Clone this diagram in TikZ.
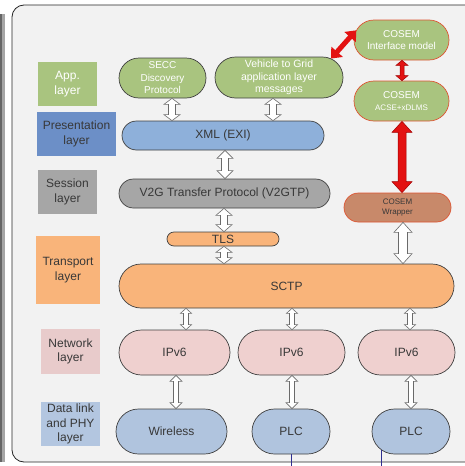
\documentclass[tikz,border=0pt]{standalone}
\usepackage{fontspec}
\setmainfont{Liberation Sans}
\usetikzlibrary{shapes.misc,arrows.meta,calc}
\definecolor{panel}{HTML}{F2F2F2}
\definecolor{edgec}{HTML}{404040}
\definecolor{txt}{HTML}{383838}
\definecolor{greenf}{HTML}{A9C47F}
\definecolor{preslab}{HTML}{6C8FC7}
\definecolor{xmlf}{HTML}{8EB0DA}
\definecolor{sessf}{HTML}{A6A6A6}
\definecolor{transf}{HTML}{F9B47A}
\definecolor{netlab}{HTML}{E8CBCB}
\definecolor{netf}{HTML}{EFD0CF}
\definecolor{dllab}{HTML}{B3C6E0}
\definecolor{dlf}{HTML}{B0C4DE}
\definecolor{wrapf}{HTML}{C8896A}
\definecolor{redb}{HTML}{DD5533}
\definecolor{redarrow}{HTML}{E31212}
\definecolor{redarrowb}{HTML}{A00000}
\definecolor{hollowb}{HTML}{6A6A6A}
\definecolor{bline}{HTML}{303090}
\newcommand\harr[7][hollow]{%
  \draw[#1] let \p1=(#3), \p2=(#4) in
   (#2pt,\y1) -- (#2pt+#6pt,\y1-#7pt) -- (#2pt+#5pt,\y1-#7pt) --
   (#2pt+#5pt,\y2+#7pt) -- (#2pt+#6pt,\y2+#7pt) -- (#2pt,\y2) --
   (#2pt-#6pt,\y2+#7pt) -- (#2pt-#5pt,\y2+#7pt) -- (#2pt-#5pt,\y1-#7pt) --
   (#2pt-#6pt,\y1-#7pt) -- cycle;}
\begin{document}
\begin{tikzpicture}[x=1pt,y=-1pt,
  pill/.style={rounded rectangle, draw=edgec, line width=0.7pt, inner sep=0pt,
    text=txt, font=\fontsize{12}{14}\selectfont, align=center},
  cosem/.style={pill, draw=redb, fill=greenf, text=white},
  lab/.style={rectangle, inner sep=0pt, text=txt,
    font=\fontsize{12}{14.5}\selectfont, align=center},
  hollow/.style={fill=white, draw=hollowb, line width=0.6pt, line join=miter},
  redarr/.style={fill=redarrow, draw=redarrowb, line width=0.5pt, line join=miter},
  blue line/.style={draw=bline, line width=0.8pt}]
\useasboundingbox (0,0) rectangle (465,466);
% background
\fill[white] (0,0) rectangle (465,466);
\fill[black!35] (0,14) rectangle (5,462);
\fill[black!60] (0,14) rectangle (1.5,462);
\draw[fill=panel, draw=black!85, line width=0.8pt, rounded corners=12pt] (12,5) rectangle (490,462);
% layer labels
\node[lab, fill=greenf, text=white, minimum width=59pt, minimum height=44pt] (lapp) at (67.5,84) {App.\\layer};
\node[lab, fill=preslab, minimum width=79pt, minimum height=44pt] (lpres) at (76.5,134) {Presentation\\layer};
\node[lab, fill=sessf, minimum width=59pt, minimum height=44pt] (lsess) at (67.5,192) {Session\\layer};
\node[lab, fill=transf, minimum width=64pt, minimum height=68pt] (ltrans) at (68,270) {Transport\\layer};
\node[lab, fill=netlab, minimum width=59pt, minimum height=45pt] (lnet) at (70.5,351.5) {Network\\layer};
\node[lab, fill=dllab, minimum width=59pt, minimum height=44pt] (ldl) at (70.5,424) {Data link\\and PHY\\layer};
% protocol nodes
\node[pill, fill=greenf, text=white, font=\fontsize{10}{12.5}\selectfont, minimum width=87pt, minimum height=40pt] (secc) at (162.5,78) {SECC\\Discovery\\Protocol};
\node[pill, fill=greenf, text=white, font=\fontsize{10.5}{12.5}\selectfont, minimum width=128pt, minimum height=41pt] (v2g) at (279,77.5) {Vehicle to Grid\\application layer\\messages};
\node[cosem, font=\fontsize{10}{12}\selectfont, minimum width=95pt, minimum height=40pt] (cim) at (401.5,40) {COSEM\\Interface model};
\node[cosem, font=\fontsize{10}{11.5}\selectfont, minimum width=95pt, minimum height=40pt] (acse) at (401.5,101) {COSEM\\{\fontsize{8}{10}\selectfont ACSE+xDLMS}};
\node[pill, fill=xmlf, minimum width=202pt, minimum height=29pt] (xml) at (223,135.5) {XML (EXI)};
\node[pill, fill=sessf, minimum width=211pt, minimum height=29pt] (v2gtp) at (224.5,193.5) {V2G Transfer Protocol (V2GTP)};
\node[pill, draw=redb, fill=wrapf, font=\fontsize{8}{10}\selectfont, minimum width=107pt, minimum height=29pt] (wrap) at (397.5,207.5) {COSEM\\Wrapper};
\node[pill, fill=transf, minimum width=112pt, minimum height=14pt] (tls) at (223,239) {TLS};
\node[pill, fill=transf, minimum width=335pt, minimum height=44pt] (sctp) at (286.5,286) {SCTP};
\node[pill, fill=netf, minimum width=111pt, minimum height=45pt] (ip1) at (174.5,352.5) {IPv6};
\node[pill, fill=netf, minimum width=107pt, minimum height=45pt] (ip2) at (291.5,352.5) {IPv6};
\node[pill, fill=netf, minimum width=97pt, minimum height=45pt] (ip3) at (406.5,352.5) {IPv6};
\node[pill, fill=dlf, minimum width=111pt, minimum height=45pt] (wl) at (171.5,431.5) {Wireless};
\node[pill, fill=dlf, minimum width=78pt, minimum height=45pt] (plc1) at (291,431.5) {PLC};
\node[pill, fill=dlf, minimum width=78pt, minimum height=45pt] (plc2) at (411,431.5) {PLC};
% hollow arrows
\harr{172}{secc.south}{xml.north}{3.5}{8}{6}
\harr{273}{v2g.south}{xml.north}{3.5}{8}{6}
\harr{225}{xml.south}{v2gtp.north}{3.5}{8}{8}
\harr{224}{v2gtp.south}{tls.north}{3.5}{8}{7}
\harr{224}{tls.south}{sctp.north}{3.5}{8}{6}
\harr{403}{wrap.south}{sctp.north}{4.5}{9}{10}
\harr{186}{sctp.south}{ip1.north}{2.5}{5.5}{5}
\harr{292}{sctp.south}{ip2.north}{2.5}{5.5}{5}
\harr{410}{sctp.south}{ip3.north}{2.5}{5.5}{5}
\harr{176}{ip1.south}{wl.north}{2.5}{6}{6}
\harr{292}{ip2.south}{plc1.north}{2.5}{6}{6}
\harr{411}{ip3.south}{plc2.north}{2.5}{6}{6}
% red arrows
\harr[redarr]{402}{cim.south}{acse.north}{2}{6}{5}
\harr[redarr]{402}{acse.south}{wrap.north}{4}{10}{11}
\draw[draw=redarrow, line width=5pt,
  {Triangle[length=9pt,width=15pt]}-{Triangle[length=9pt,width=15pt]}] (v2g.20) -- (cim.168);
% bottom lines
\coordinate (b1) at (291,466);
\coordinate (b2) at (381,466);
\draw[blue line] (plc1.south) -- (b1);
\draw[blue line] (b2 |- plc2.211) -- (b2);
\end{tikzpicture}
\end{document}
